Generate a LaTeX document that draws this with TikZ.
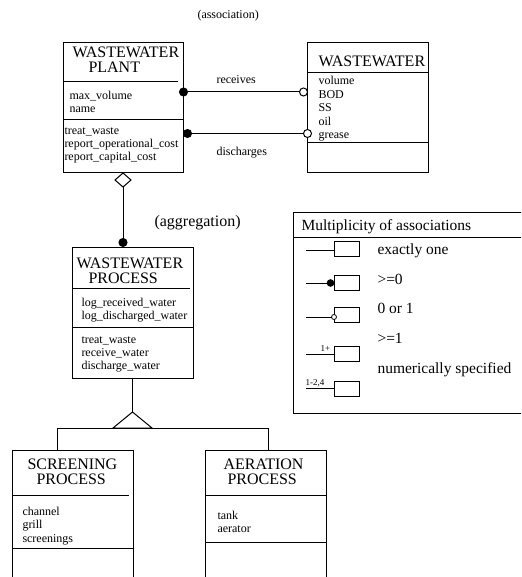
\documentclass[tikz,border=0pt]{standalone}
\usepackage{fontspec}
\setmainfont{Liberation Serif}
\usetikzlibrary{shapes.geometric,calc}
\begin{document}
\begin{tikzpicture}[x=1pt,y=-1pt,
  line width=1pt,
  cls/.style={draw, rectangle, inner sep=0pt, outer sep=0pt, anchor=north west},
  ttl/.style={anchor=base west, inner sep=0pt, font=\rmfamily\fontsize{16}{16}\selectfont},
  itm/.style={anchor=base west, inner sep=0pt, font=\rmfamily\fontsize{12}{12}\selectfont},
  big/.style={anchor=base west, inner sep=0pt, font=\rmfamily\fontsize{15.5}{15.5}\selectfont},
  tiny/.style={anchor=base west, inner sep=0pt, font=\rmfamily\fontsize{9}{9}\selectfont},
  fdot/.style={circle, fill=black, draw, inner sep=0pt, outer sep=0pt, minimum size=8pt},
  odot/.style={circle, fill=white, draw, inner sep=0pt, outer sep=0pt, minimum size=8pt},
  sdot/.style={circle, fill=black, draw, inner sep=0pt, outer sep=0pt, minimum size=6.5pt},
  sodot/.style={circle, fill=white, draw, line width=0.8pt, inner sep=0pt, outer sep=0pt, minimum size=5pt},
  mini/.style={draw, rectangle, inner sep=0pt, outer sep=0pt, minimum width=25pt, minimum height=15pt},
]
\clip (0,0) rectangle (521,577);
\fill[white] (0,0) rectangle (521,577);

\node[itm] (assocL) at (197,19) {(association)};

% ---- WASTEWATER PLANT class ----
\node[cls, minimum width=120, minimum height=130] (plant) at (63,43) {};
\draw ($(plant.north west)+(0,39)$) -- ++(115,0);
\draw ($(plant.north west)+(0,77)$) -- ++(120,0);
\node[ttl] (plantT1) at (72,58) {WASTEWATER};
\node[ttl] (plantT2) at (88,73) {PLANT};
\node[itm] (plantA1) at (69,100) {max\_volume};
\node[itm] (plantA2) at (69,113) {name};
\node[itm] (plantO1) at (64,135) {treat\_waste};
\node[itm] (plantO2) at (64,148) {report\_operational\_cost};
\node[itm] (plantO3) at (64,161) {report\_capital\_cost};

% ---- WASTEWATER class ----
\node[cls, minimum width=121, minimum height=130] (water) at (307,43) {};
\draw ($(water.north west)+(0,30)$) -- ++(121,0);
\draw ($(water.north west)+(0,100)$) -- ++(121,0);
\node[ttl] (waterT) at (318,67) {WASTEWATER};
\node[itm] (waterA1) at (318,85) {volume};
\node[itm] (waterA2) at (318,98.5) {BOD};
\node[itm] (waterA3) at (318,112) {SS};
\node[itm] (waterA4) at (318,125.5) {oil};
\node[itm] (waterA5) at (318,139) {grease};

% ---- associations ----
\node[fdot] (rcvA) at (183.5,92) {};
\node[odot] (rcvB) at (303.5,92) {};
\draw (rcvA) -- (rcvB);
\node[itm] (rcvL) at (216,84) {receives};
\node[fdot] (disA) at (187.5,133.5) {};
\node[odot] (disB) at (307.5,133.5) {};
\draw (disA) -- (disB);
\node[itm] (disL) at (216,156) {discharges};

% ---- aggregation ----
\node[diamond, draw, fill=white, inner sep=0pt, outer sep=0pt,
      minimum width=16pt, minimum height=14pt, anchor=north] (agg) at (plant.south) {};
\node[fdot] (aggdot) at (123,242.5) {};
\draw (agg.south) -- (aggdot);
\node[big, font=\rmfamily\fontsize{16}{16}\selectfont] (aggL) at (154,226) {(aggregation)};

% ---- WASTEWATER PROCESS class ----
\node[cls, minimum width=121, minimum height=131] (proc) at (72,247) {};
\draw ($(proc.north west)+(0,41)$) -- ++(118,0);
\draw ($(proc.north west)+(0,80)$) -- ++(121,0);
\node[ttl] (procT1) at (76,268) {WASTEWATER};
\node[ttl] (procT2) at (88,283) {PROCESS};
\node[itm] (procA1) at (81,306) {log\_received\_water};
\node[itm] (procA2) at (81,319) {log\_discharged\_water};
\node[itm] (procO1) at (81,343) {treat\_waste};
\node[itm] (procO2) at (81,356) {receive\_water};
\node[itm] (procO3) at (81,369) {discharge\_water};

% ---- generalisation: stem, open triangle and bus ----
\coordinate (apex) at ($(proc.south)+(0,34)$);
\draw (proc.south) -- (apex);
\draw (apex) -- ++(-19.5,16) -- ++(39,0) -- cycle;
\coordinate (busL) at (57,428);
\coordinate (busR) at (268,428);

% ---- SCREENING PROCESS class ----
\node[cls, minimum width=121, minimum height=150] (scr) at (12,450) {};
\draw ($(scr.north west)+(0,45)$) -- ++(117,0);
\draw ($(scr.north west)+(0,98)$) -- ++(121,0);
\node[ttl] (scrT1) at (27,469) {SCREENING};
\node[ttl] (scrT2) at (36,484) {PROCESS};
\node[itm] (scrA1) at (22,515) {channel};
\node[itm] (scrA2) at (22,528.5) {grill};
\node[itm] (scrA3) at (22,542) {screenings};

% ---- AERATION PROCESS class ----
\node[cls, minimum width=121, minimum height=150] (aer) at (205,450) {};
\draw ($(aer.north west)+(0,45)$) -- ++(121,0);
\draw ($(aer.north west)+(0,92)$) -- ++(121,0);
\node[ttl] (aerT1) at (223,469) {AERATION};
\node[ttl] (aerT2) at (227,484) {PROCESS};
\node[itm] (aerA1) at (217,519) {tank};
\node[itm] (aerA2) at (217,532) {aerator};

\draw (scr.north -| busL) -- (busL) -- (busR) -- (aer.north -| busR);

% ---- legend ----
\node[cls, minimum width=240, minimum height=201] (leg) at (293,212) {};
\draw ($(leg.north west)+(0,25)$) -- ++(240,0);
\node[big] (legT) at (301,230) {Multiplicity of associations};

\node[mini] (m1) at (346.5,249) {};
\coordinate (s1) at (306,250);
\draw (s1) -- (s1 -| m1.west);
\node[big] (t1) at (377,254) {exactly one};

\node[mini] (m2) at (346.5,283) {};
\node[sdot] (d2) at (330.5,283) {};
\coordinate (s2) at (306,283);
\draw (s2) -- (d2);
\node[big] (t2) at (377,284) {>=0};

\node[mini] (m3) at (346.5,315) {};
\node[sodot] (d3) at (334,317) {};
\coordinate (s3) at (306,317);
\draw (s3) -- (d3);
\node[big] (t3) at (377,313) {0 or 1};

\node[mini] (m4) at (346.5,354) {};
\coordinate (s4) at (306,354);
\draw (s4) -- (s4 -| m4.west);
\node[tiny] (n4) at (320,351.5) {1+};
\node[big] (t4) at (377,343) {>=1};

\node[big] (t5) at (377,373) {numerically specified};
\node[mini] (m5) at (346.5,389) {};
\coordinate (s5) at (306,388);
\draw (s5) -- (s5 -| m5.west);
\node[tiny] (n5) at (305,385) {1-2,4};
\end{tikzpicture}
\end{document}
